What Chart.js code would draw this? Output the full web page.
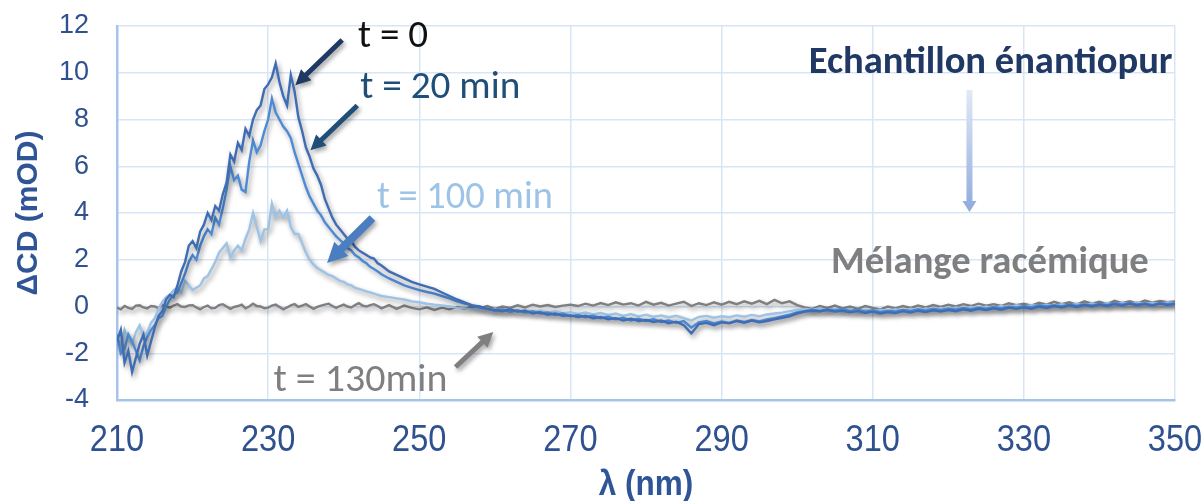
<!DOCTYPE html>
<html><head><meta charset="utf-8">
<script src="https://cdn.jsdelivr.net/npm/chart.js@4.4.1/dist/chart.umd.min.js"></script>
<style>html,body{margin:0;padding:0;background:#fff;}#wrap{width:1204px;height:501px;}</style>
</head><body><div id="wrap"><canvas id="c" width="1204" height="501"></canvas></div>
<script>
// Wavelength grid (nm): 0.5 nm steps up to 245 nm, then 1 nm steps
const wavelengths = [
  210,210.5,211,211.5,212,212.5,213,213.5,214,214.5,
  215,215.5,216,216.5,217,217.5,218,218.5,219,219.5,
  220,220.5,221,221.5,222,222.5,223,223.5,224,224.5,
  225,225.5,226,226.5,227,227.5,228,228.5,229,229.5,
  230,230.5,231,231.5,232,232.5,233,233.5,234,234.5,
  235,235.5,236,236.5,237,237.5,238,238.5,239,239.5,
  240,240.5,241,241.5,242,242.5,243,243.5,244,244.5,
  245,246,247,248,249,
  250,251,252,253,254,255,256,257,258,259,
  260,261,262,263,264,265,266,267,268,269,
  270,271,272,273,274,275,276,277,278,279,
  280,281,282,283,284,285,286,287,288,289,
  290,291,292,293,294,295,296,297,298,299,
  300,301,302,303,304,305,306,307,308,309,
  310,311,312,313,314,315,316,317,318,319,
  320,321,322,323,324,325,326,327,328,329,
  330,331,332,333,334,335,336,337,338,339,
  340,341,342,343,344,345,346,347,348,349,
  350];

// ΔCD (mOD) at t = 0
const cd_t0 = [
  -1.5,-1.0,-2.4,-1.9,-2.8,-2.2,-1.6,-1.2,-2.1,-1.5,
  -0.9,-0.4,-0.2,0.3,0.5,0.4,0.9,1.5,1.9,2.6,
  2.8,2.5,3.2,3.5,4.0,3.7,4.3,4.1,4.8,5.3,
  6.5,6.2,7.0,6.7,7.6,7.3,8.0,8.4,8.6,9.3,
  9.5,9.8,10.4,9.6,9.0,8.6,9.9,9.2,8.1,7.5,
  6.8,6.4,5.9,5.6,5.2,4.6,4.2,3.8,3.5,3.3,
  3.1,2.9,2.8,2.55,2.4,2.3,2.2,2.1,2.05,1.85,
  1.75,1.5,1.35,1.2,1.05,
  0.95,0.85,0.75,0.6,0.45,0.3,0.18,0.05,0.0,-0.1,
  -0.15,-0.2,-0.12,-0.22,-0.18,-0.3,-0.25,-0.35,-0.3,-0.4,
  -0.38,-0.45,-0.4,-0.5,-0.45,-0.55,-0.5,-0.6,-0.52,-0.62,
  -0.58,-0.66,-0.6,-0.72,-0.65,-0.8,-1.15,-0.75,-0.7,-0.8,
  -0.68,-0.72,-0.62,-0.7,-0.6,-0.68,-0.62,-0.55,-0.48,-0.42,
  -0.3,-0.22,-0.18,-0.2,-0.15,-0.22,-0.18,-0.25,-0.2,-0.28,
  -0.22,-0.3,-0.24,-0.28,-0.2,-0.26,-0.18,-0.24,-0.16,-0.22,
  -0.15,-0.2,-0.12,-0.18,-0.1,-0.15,-0.08,-0.14,-0.05,-0.1,
  -0.04,-0.1,0.0,-0.06,0.02,-0.04,0.05,-0.02,0.06,0.0,
  0.08,0.02,0.1,0.04,0.12,0.05,0.1,0.04,0.12,0.06,
  0.1];

// ΔCD (mOD) at t = 20 min
const cd_t20 = [
  -1.2,-2.0,-1.8,-1.2,-1.5,-1.9,-2.3,-1.7,-1.3,-1.0,
  -0.8,-0.5,-0.4,0.0,0.3,0.5,0.6,1.0,1.4,1.9,
  2.2,2.0,2.6,3.0,3.3,3.1,3.8,3.5,4.2,5.0,
  6.0,5.4,5.6,5.0,4.9,6.2,7.1,6.6,6.9,7.5,
  8.0,8.9,8.3,8.0,7.7,7.5,7.2,6.6,6.1,5.6,
  5.1,4.7,4.4,4.1,3.9,3.6,3.4,3.2,3.0,2.85,
  2.7,2.5,2.4,2.2,2.1,1.95,1.85,1.7,1.6,1.5,
  1.38,1.2,1.05,0.9,0.8,
  0.7,0.62,0.55,0.45,0.35,0.22,0.12,0.05,-0.05,-0.1,
  -0.18,-0.12,-0.22,-0.16,-0.26,-0.2,-0.3,-0.26,-0.36,-0.3,
  -0.42,-0.36,-0.46,-0.4,-0.5,-0.44,-0.55,-0.48,-0.6,-0.52,
  -0.62,-0.55,-0.66,-0.6,-0.7,-0.62,-0.9,-0.68,-0.62,-0.72,
  -0.64,-0.7,-0.6,-0.66,-0.58,-0.64,-0.55,-0.5,-0.42,-0.35,
  -0.25,-0.2,-0.14,-0.2,-0.12,-0.18,-0.1,-0.2,-0.14,-0.22,
  -0.16,-0.24,-0.18,-0.22,-0.14,-0.2,-0.12,-0.18,-0.1,-0.16,
  -0.08,-0.14,-0.06,-0.12,-0.04,-0.1,-0.02,-0.08,0.0,-0.06,
  0.02,-0.04,0.05,0.0,0.06,0.0,0.08,0.02,0.1,0.04,
  0.12,0.06,0.14,0.08,0.15,0.08,0.14,0.06,0.15,0.1,
  0.14];

// ΔCD (mOD) at t = 100 min
const cd_t100 = [
  -1.3,-1.8,-1.0,-1.4,-1.6,-1.1,-0.8,-1.3,-1.1,-0.7,
  -0.5,-0.1,0.2,0.4,0.5,0.7,0.8,0.6,1.1,0.9,
  0.7,0.8,0.9,1.2,1.3,1.6,1.9,2.3,2.5,2.7,
  2.1,2.4,2.6,2.4,2.9,3.3,4.0,3.4,2.8,3.3,
  3.3,4.4,3.8,4.1,3.8,4.1,3.4,3.1,3.1,2.7,
  2.3,2.0,1.8,1.65,1.55,1.45,1.35,1.3,1.2,1.1,
  1.05,0.95,0.9,0.8,0.75,0.7,0.65,0.6,0.55,0.5,
  0.45,0.4,0.35,0.3,0.22,
  0.18,0.12,0.08,0.05,0.0,-0.05,-0.08,-0.12,-0.08,-0.16,
  -0.12,-0.2,-0.14,-0.22,-0.16,-0.24,-0.18,-0.26,-0.2,-0.3,
  -0.24,-0.32,-0.26,-0.34,-0.28,-0.36,-0.3,-0.4,-0.32,-0.42,
  -0.35,-0.44,-0.38,-0.46,-0.4,-0.5,-0.6,-0.45,-0.4,-0.48,
  -0.42,-0.46,-0.38,-0.44,-0.36,-0.42,-0.34,-0.3,-0.26,-0.2,
  -0.15,-0.1,-0.14,-0.08,-0.16,-0.1,-0.18,-0.12,-0.2,-0.14,
  -0.2,-0.14,-0.2,-0.12,-0.18,-0.1,-0.16,-0.08,-0.14,-0.06,
  -0.12,-0.04,-0.1,-0.02,-0.08,0.0,-0.06,0.02,-0.04,0.05,
  0.0,0.06,0.02,0.08,0.03,0.1,0.04,0.12,0.05,0.14,
  0.06,0.15,0.08,0.16,0.1,0.18,0.12,0.16,0.1,0.18,
  0.14];

// ΔCD (mOD) at t = 130 min (racemic mixture)
const cd_t130 = [
  -0.05,-0.12,0.02,-0.06,-0.1,0.04,0.05,-0.04,-0.08,0.02,
  0.0,-0.08,0.08,0.0,-0.05,0.04,0.1,0.0,-0.02,0.05,
  0.06,-0.04,-0.12,-0.02,0.04,-0.08,-0.06,0.06,0.1,0.0,
  -0.1,-0.02,0.02,0.08,-0.08,0.0,0.12,0.02,0.0,-0.08,
  -0.05,0.04,0.08,-0.02,-0.12,-0.04,0.05,0.1,-0.02,0.04,
  0.1,0.0,-0.1,-0.02,0.04,0.08,0.12,0.02,-0.06,0.02,
  0.08,0.0,-0.04,0.06,0.14,0.04,0.0,0.06,0.1,0.02,
  -0.08,0.06,-0.1,0.04,-0.06,
  -0.12,-0.04,-0.15,-0.05,-0.12,-0.02,-0.1,0.0,-0.08,0.02,
  -0.1,0.0,-0.06,0.05,-0.04,0.08,0.0,0.06,-0.02,0.04,
  0.08,0.02,0.12,0.04,0.15,0.06,0.18,0.08,0.14,0.04,
  0.2,0.08,0.16,0.04,0.12,0.2,0.02,0.14,0.06,0.18,
  0.08,0.2,0.1,0.22,0.12,0.24,0.1,0.28,0.14,0.22,
  0.06,-0.04,-0.1,0.02,-0.06,0.04,-0.08,0.0,-0.1,0.02,
  -0.06,-0.12,0.0,-0.08,0.02,-0.06,0.04,-0.04,0.06,-0.02,
  0.08,0.0,0.1,0.02,0.12,0.04,0.1,0.02,0.14,0.06,
  0.12,0.04,0.16,0.08,0.2,0.1,0.18,0.08,0.22,0.12,
  0.2,0.1,0.24,0.14,0.22,0.12,0.26,0.16,0.24,0.18,
  0.22];

const seriesNames = ['t = 0','t = 20 min','t = 100 min','t = 130min'];
const xTicks = [210,230,250,270,290,310,330,350];
const yTicks = [-4,-2,0,2,4,6,8,10,12];
const xTitle = 'λ (nm)';
const yTitle = 'ΔCD (mOD)';

const toXY = arr => arr.map((v,i)=>({x:wavelengths[i], y:v}));

function drawArrow(ctx, x1,y1,x2,y2, fill, shaft, headW, headL){
  const ang = Math.atan2(y2-y1,x2-x1), len = Math.hypot(x2-x1,y2-y1);
  ctx.save();
  ctx.translate(x1,y1); ctx.rotate(ang);
  ctx.beginPath();
  ctx.moveTo(0,-shaft/2); ctx.lineTo(len-headL,-shaft/2); ctx.lineTo(len-headL,-headW/2);
  ctx.lineTo(len,0); ctx.lineTo(len-headL,headW/2); ctx.lineTo(len-headL,shaft/2); ctx.lineTo(0,shaft/2);
  ctx.closePath();
  ctx.fillStyle = (typeof fill === 'function') ? fill(ctx,len) : fill;
  ctx.fill();
  ctx.restore();
}

const annotations = {
  id:'annot',
  afterDraw(chart){
    const ctx = chart.ctx, xs = chart.scales.x, ys = chart.scales.y, ca = chart.chartArea;
    const X = v=>xs.getPixelForValue(v), Y = v=>ys.getPixelForValue(v);
    // x tick labels (library ticks, drawn slightly condensed)
    ctx.save();
    ctx.fillStyle='#2F5190'; ctx.textAlign='center'; ctx.textBaseline='middle';
    ctx.font='37px "Liberation Sans", Arial, sans-serif';
    xs.ticks.forEach(t=>{
      ctx.save(); ctx.translate(X(t.value), ca.bottom+41); ctx.scale(0.88,1);
      ctx.fillText(String(t.value),0,0); ctx.restore();
    });
    // x-axis title
    ctx.font='bold 35px "Liberation Sans", Arial, sans-serif';
    ctx.fillStyle='#2F5597';
    ctx.save(); ctx.translate((ca.left+ca.right)/2, ca.bottom+85); ctx.scale(0.9,1);
    ctx.fillText(xTitle,0,0); ctx.restore();
    ctx.restore();
    // arrows (data coordinates)
    ctx.save();
    ctx.shadowColor='rgba(0,0,0,0.35)'; ctx.shadowBlur=4; ctx.shadowOffsetX=2; ctx.shadowOffsetY=3;
    drawArrow(ctx, X(239.8),Y(11.4), X(233.6),Y(9.47), '#1F3864', 5, 15, 15);
    drawArrow(ctx, X(241.8),Y(8.6), X(235.6),Y(6.68), '#1F4E79', 5, 15, 15);
    drawArrow(ctx, X(243.8),Y(3.78), X(237.8),Y(1.86), '#4A7EC0', 8, 20, 20);
    drawArrow(ctx, X(254.8),Y(-2.59), X(259.8),Y(-1.09), '#7F7F7F', 5, 15, 15);
    ctx.restore();
    ctx.save();
    drawArrow(ctx, X(322.8),Y(9.26), X(322.8),Y(4.04), (c,len)=>{const g=c.createLinearGradient(0,0,len,0); g.addColorStop(0,'#E2E9F6'); g.addColorStop(1,'#8EAADC'); return g;}, 6, 14, 11);
    ctx.restore();
    // texts
    const texts = [
      {t:'t = 0', x:241.9, y:11.53, w:70, color:'#111111', bold:false, align:'left'},
      {t:'t = 20 min', x:242.2, y:9.35, w:160, color:'#1F4E79', bold:false, align:'left'},
      {t:'t = 100 min', x:244.4, y:4.64, w:176, color:'#9DC3E6', bold:false, align:'left'},
      {t:'t = 130min', x:230.7, y:-3.19, w:174, color:'#7F7F7F', bold:false, align:'left'},
      {t:'Echantillon énantiopur', x:325.6, y:10.42, w:364, color:'#1F3864', bold:true, align:'center'},
      {t:'Mélange racémique', x:325.5, y:1.86, w:318, color:'#7F7F7F', bold:true, align:'center'}
    ];
    ctx.save();
    ctx.textBaseline='middle';
    texts.forEach(o=>{
      const fam = '"Carlito", "Lato", "Open Sans", sans-serif';
      ctx.font = (o.bold?'bold ':'')+'100px '+fam;
      const size = 100*o.w/ctx.measureText(o.t).width;
      ctx.font = (o.bold?'bold ':'')+size.toFixed(2)+'px '+fam;
      ctx.fillStyle = o.color; ctx.textAlign = o.align;
      ctx.fillText(o.t, X(o.x), Y(o.y));
    });
    ctx.restore();
  }
};

const lineShadow = {
  id:'lineShadow',
  beforeDatasetDraw(chart){ const c=chart.ctx; c.save(); c.shadowColor='rgba(0,0,0,0.4)'; c.shadowBlur=5; c.shadowOffsetX=2; c.shadowOffsetY=3; },
  afterDatasetDraw(chart){ chart.ctx.restore(); }
};

new Chart(document.getElementById('c'), {
  type:'line',
  data:{ datasets:[
    {label:seriesNames[3], data:toXY(cd_t130), borderColor:'#7F7F7F', order:4},
    {label:seriesNames[2], data:toXY(cd_t100), borderColor:'#9DC3E6', order:3},
    {label:seriesNames[1], data:toXY(cd_t20), borderColor:'#4D8BD6', order:2},
    {label:seriesNames[0], data:toXY(cd_t0), borderColor:'#3E6DB5', order:1}
  ]},
  options:{
    responsive:false, animation:false,
    layout:{padding:{left:0,right:29,top:26,bottom:0}},
    plugins:{legend:{display:false}, tooltip:{enabled:false}},
    elements:{point:{radius:0}, line:{borderWidth:2.4, tension:0, fill:false}},
    scales:{
      x:{type:'linear', min:210, max:350,
        afterBuildTicks(s){ s.ticks = xTicks.map(v=>({value:v})); },
        ticks:{display:false},
        grid:{color:'#D8E5F6', lineWidth:1.5, drawTicks:false},
        border:{color:'#A6C3EA', width:2.5},
        afterFit(s){ s.height = 101; s.paddingLeft = 0; s.paddingRight = 0; }
      },
      y:{min:-4, max:12,
        afterBuildTicks(s){ s.ticks = yTicks.map(v=>({value:v})); },
        ticks:{color:'#2F5190', padding:28,
          font:{family:'"Liberation Sans", Arial, sans-serif', size:27}},
        grid:{color:'#D8E5F6', lineWidth:1.5, drawTicks:false},
        border:{color:'#A6C3EA', width:2.5},
        title:{display:true, text:yTitle, color:'#2F5597', padding:{top:11,bottom:0},
          font:{family:'"Liberation Sans", Arial, sans-serif', size:30, weight:'bold'}},
        afterFit(s){ s.width = 117; s.paddingTop = 0; s.paddingBottom = 0; }
      }
    }
  },
  plugins:[lineShadow, annotations]
});
</script>
</body></html>
